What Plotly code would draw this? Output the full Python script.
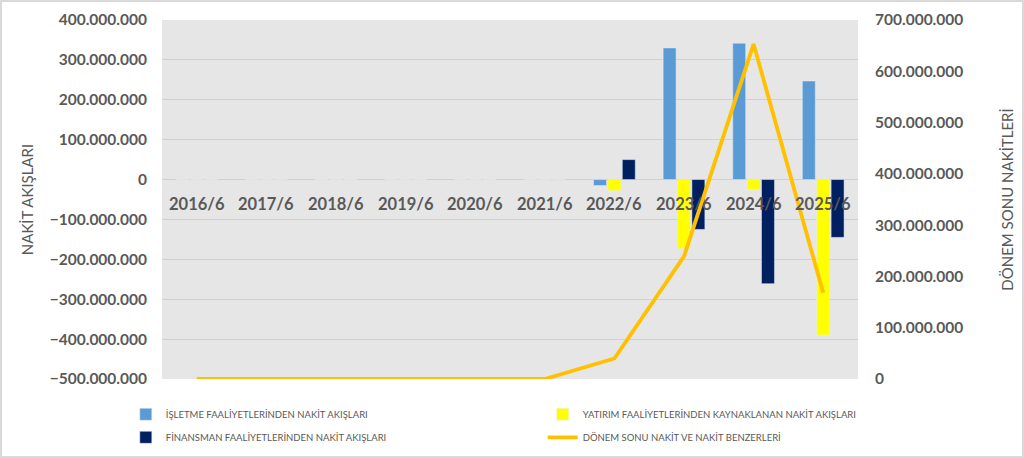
import plotly.graph_objects as go

categories = ["2016/6", "2017/6", "2018/6", "2019/6", "2020/6", "2021/6", "2022/6", "2023/6", "2024/6", "2025/6"]
isletme = [0, 0, 0, 0, 0, 0, -15_000_000, 330_000_000, 342_000_000, 247_000_000]
yatirim = [0, 0, 0, 0, 0, 0, -28_000_000, -173_000_000, -25_000_000, -390_000_000]
finansman = [0, 0, 0, 0, 0, 0, 50_000_000, -125_000_000, -261_000_000, -145_000_000]
donem_sonu = [0, 0, 0, 0, 0, 0, 40_000_000, 239_000_000, 653_000_000, 168_000_000]

names = [
    "İŞLETME FAALİYETLERİNDEN NAKİT AKIŞLARI",
    "YATIRIM FAALİYETLERİNDEN KAYNAKLANAN NAKİT AKIŞLARI",
    "FİNANSMAN FAALİYETLERİNDEN NAKİT AKIŞLARI",
    "DÖNEM SONU NAKİT VE NAKİT BENZERLERİ",
]

gray = "#595959"
font_family = "Lato, Open Sans, sans-serif"

fig = go.Figure()
fig.add_trace(go.Bar(x=categories, y=isletme, name=names[0], marker_color="#5B9BD5", yaxis="y",
                     legend="legend", legendgroup="a"))
fig.add_trace(go.Bar(x=categories, y=yatirim, name=names[1], marker_color="#FFFF00", yaxis="y",
                     legend="legend2", legendgroup="b"))
fig.add_trace(go.Bar(x=categories, y=finansman, name=names[2], marker_color="#002060", yaxis="y",
                     legend="legend", legendgroup="c"))
fig.add_trace(go.Scatter(x=categories, y=donem_sonu, name=names[3], mode="lines",
                         line=dict(color="#FFC000", width=3.8), yaxis="y2",
                         legend="legend2", legendgroup="d"))

for c in categories:
    fig.add_annotation(x=c, y=0, xref="x", yref="y", text=c, showarrow=False,
                       yshift=-24, font=dict(family=font_family, size=16.5, color=gray, weight="bold"))

W, H = 1024, 458
ml, mr, mt, mb = 162, 166, 20, 79
pw, ph = W - ml - mr, H - mt - mb
fig.add_shape(type="rect", xref="paper", yref="paper",
              x0=-(ml - 1) / pw, x1=(W - ml - 1) / pw, y0=-(mb - 1) / ph, y1=(H - mb - 1) / ph,
              line=dict(color="#d9d9d9", width=2), layer="below")

legend_common = dict(orientation="v", yanchor="top", y=-0.058, xanchor="left",
                     font=dict(family=font_family, size=9.5, color=gray), itemwidth=30,
                     bgcolor="rgba(0,0,0,0)", tracegroupgap=4, traceorder="grouped")

tick_font = dict(family=font_family, size=15.5, color=gray, weight="bold")
title_font = dict(family=font_family, size=15, color=gray)

fig.update_layout(
    width=W, height=H,
    margin=dict(l=ml, r=mr, t=mt, b=mb, autoexpand=False),
    paper_bgcolor="white",
    plot_bgcolor="#e6e6e6",
    separators=",.",
    barmode="group",
    bargap=0.38,
    bargroupgap=0.1,
    font=dict(family=font_family, color=gray),
    xaxis=dict(type="category", showticklabels=False, showgrid=False, zeroline=False),
    yaxis=dict(range=[-500_000_000, 400_000_000], dtick=100_000_000, tickformat=",d",
               gridcolor="#d0d0d0", gridwidth=1, zeroline=True, zerolinecolor="#d0d0d0", zerolinewidth=1,
               tickfont=tick_font, ticklabelstandoff=14,
               title=dict(text="NAKİT AKIŞLARI", font=title_font, standoff=12),
               automargin=False),
    yaxis2=dict(range=[0, 700_000_000], dtick=100_000_000, tickformat=",d", overlaying="y", side="right",
                showgrid=False, zeroline=False,
                tickfont=tick_font, ticklabelstandoff=16,
                title=dict(text="DÖNEM SONU NAKİTLERİ", font=title_font, standoff=40),
                automargin=False),
    legend=dict(x=-0.052, **legend_common),
    legend2=dict(x=0.547, **legend_common),
    showlegend=True,
)

fig.write_html("out.html", config={"displayModeBar": False},
               post_script="document.body.style.margin='0';document.body.style.overflow='hidden';")
